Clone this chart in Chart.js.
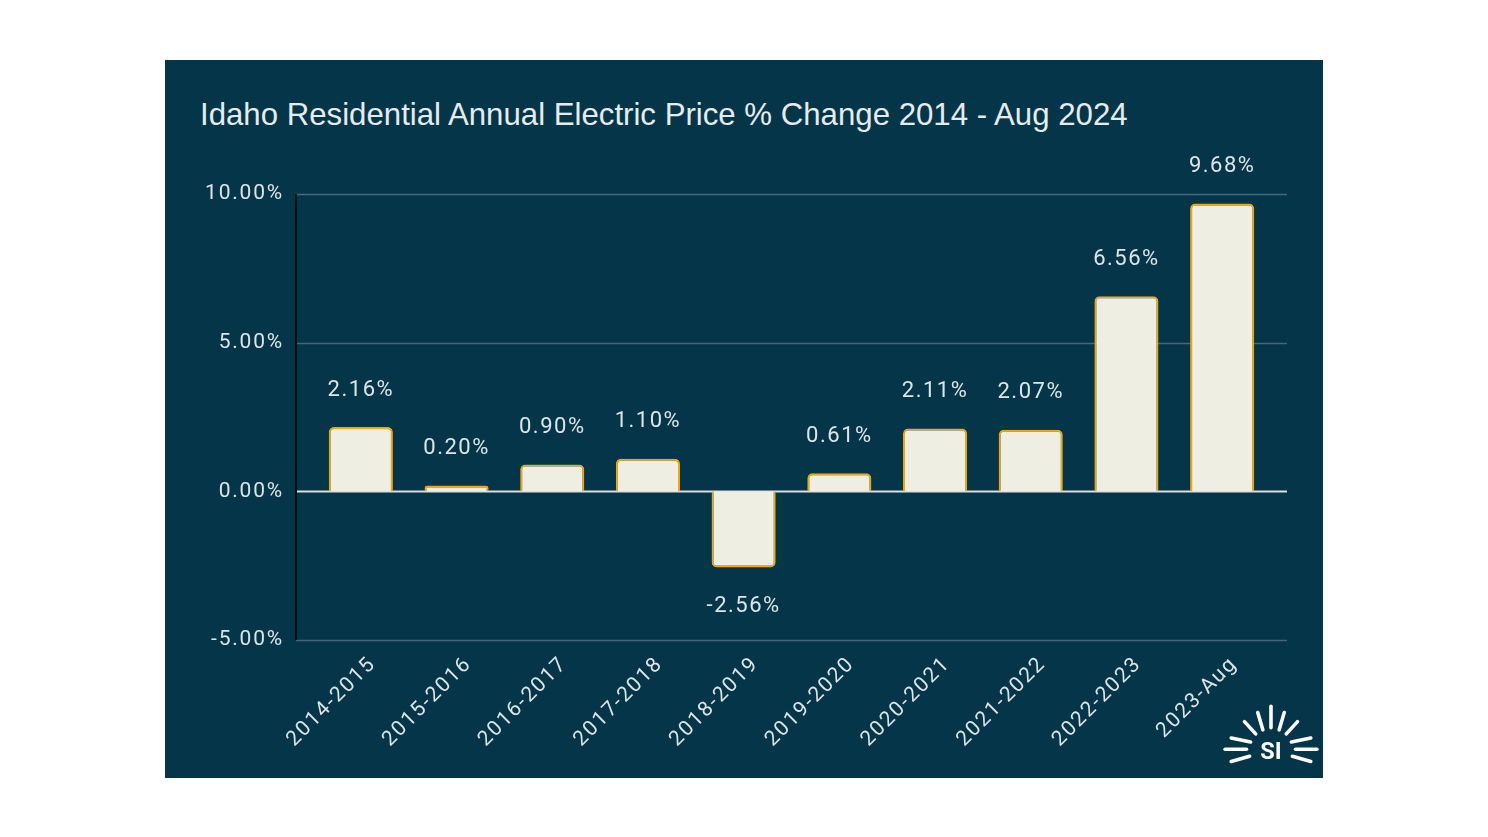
<!DOCTYPE html>
<html>
<head>
<meta charset="utf-8">
<script src="https://cdn.jsdelivr.net/npm/chart.js@4.4.1/dist/chart.umd.min.js"></script>
<style>
    body { margin: 0; background: #ffffff; width: 1488px; height: 837px; overflow: hidden; }
    #panel { position: absolute; left: 165px; top: 60px; width: 1158px; height: 718px; background: #053548; }
    #title { position: absolute; left: 35px; top: 37px; color: #e6ecee; font: 31.2px "Liberation Sans", Arial, sans-serif; white-space: nowrap; }
    #chart-wrap { position: absolute; left: 0; top: 0; width: 1158px; height: 718px; }
    #logo { position: absolute; left: 1055px; top: 643px; }
</style>
</head>
<body>
<div id="panel">
    <div id="title">Idaho Residential Annual Electric Price % Change 2014 - Aug 2024</div>
    <div id="chart-wrap"><canvas id="bar-chart"></canvas></div>
    <svg id="logo" width="102" height="72" viewBox="0 0 100 70">
        <g stroke="#ffffff" stroke-width="3.5" stroke-linecap="round">
            <line x1="50" y1="3" x2="50" y2="24"/>
            <line x1="37" y1="9" x2="42" y2="26"/>
            <line x1="63" y1="9" x2="58" y2="26"/>
            <line x1="24" y1="18" x2="35" y2="30"/>
            <line x1="76" y1="18" x2="65" y2="30"/>
            <line x1="11" y1="34" x2="30" y2="38"/>
            <line x1="89" y1="34" x2="70" y2="38"/>
            <line x1="5" y1="45" x2="26" y2="45"/>
            <line x1="95" y1="45" x2="74" y2="45"/>
            <line x1="11" y1="57" x2="29" y2="52"/>
            <line x1="89" y1="57" x2="71" y2="52"/>
        </g>
        <text x="50" y="55" text-anchor="middle" fill="#ffffff" font-family="Roboto, sans-serif" font-weight="bold" font-size="23">SI</text>
    </svg>
</div>
<script>
    const categories = ['2014-2015', '2015-2016', '2016-2017', '2017-2018', '2018-2019',
                        '2019-2020', '2020-2021', '2021-2022', '2022-2023', '2023-Aug'];
    const changes = [2.16, 0.20, 0.90, 1.10, -2.56, 0.61, 2.11, 2.07, 6.56, 9.68];
    const yTicks = [-5, 0, 5, 10];

    const textColor = '#dde5e7';
    const gridExtend = 17;

    // wider letter spacing like the original rendering
    const spacing = {
        id: 'spacing',
        beforeLayout(chart) { chart.ctx.letterSpacing = '1.8px'; },
        beforeDraw(chart) { chart.ctx.letterSpacing = '1.8px'; }
    };

    // horizontal grid lines reach a bit past the bars on both sides
    const gridLines = {
        id: 'gridLines',
        beforeDatasetsDraw(chart) {
            const { ctx, chartArea } = chart;
            const y = chart.scales.y;
            const left = chartArea.left - gridExtend;
            const right = chartArea.right + gridExtend;
            ctx.save();
            y.ticks.forEach(t => {
                const py = Math.round(y.getPixelForValue(t.value)) + 0.5;
                ctx.beginPath();
                ctx.strokeStyle = t.value === 0 ? '#d9e0e3' : '#46677a';
                ctx.lineWidth = t.value === 0 ? 2 : 1.5;
                ctx.moveTo(left, py);
                ctx.lineTo(right, py);
                ctx.stroke();
            });
            ctx.beginPath();
            ctx.strokeStyle = '#0b0f12';
            ctx.lineWidth = 2;
            ctx.moveTo(left, y.getPixelForValue(10));
            ctx.lineTo(left, y.getPixelForValue(-5));
            ctx.stroke();
            ctx.restore();
        }
    };

    // value labels above / below each bar
    const valueLabels = {
        id: 'valueLabels',
        afterDatasetsDraw(chart) {
            const { ctx } = chart;
            const meta = chart.getDatasetMeta(0);
            ctx.save();
            ctx.letterSpacing = '1.5px';
            ctx.font = '22px Roboto, sans-serif';
            ctx.fillStyle = textColor;
            ctx.textAlign = 'center';
            ctx.textBaseline = 'middle';
            meta.data.forEach((bar, i) => {
                const v = changes[i];
                const y = v >= 0 ? bar.y - 37 : bar.y + 39;
                ctx.fillText(v.toFixed(2) + '%', bar.x, y);
            });
            ctx.restore();
        }
    };

    const ctx = document.getElementById('bar-chart').getContext('2d');
    new Chart(ctx, {
        type: 'bar',
        data: {
            labels: categories,
            datasets: [{
                data: changes,
                backgroundColor: '#eeefe2',
                borderColor: '#f2a60c',
                borderWidth: 2,
                borderRadius: 5,
                borderSkipped: 'start',
                barPercentage: 0.67,
                categoryPercentage: 1
            }]
        },
        options: {
            responsive: true,
            maintainAspectRatio: false,
            animation: false,
            layout: { padding: { top: 134, right: 53, left: 0, bottom: 0 } },
            plugins: {
                legend: { display: false },
                tooltip: { enabled: false }
            },
            scales: {
                x: {
                    grid: { display: false },
                    border: { display: false },
                    ticks: {
                        color: textColor,
                        font: { family: 'Roboto', size: 21 },
                        minRotation: 45,
                        maxRotation: 45,
                        padding: 4,
                        labelOffset: 12
                    },
                    afterFit: (scale) => { scale.height = 138; }
                },
                y: {
                    min: -5,
                    max: 10,
                    afterBuildTicks: (scale) => { scale.ticks = yTicks.map(v => ({ value: v })); },
                    grid: { display: false },
                    border: { display: false },
                    ticks: {
                        color: textColor,
                        font: { family: 'Roboto', size: 21 },
                        padding: 21,
                        callback: (v) => v.toFixed(2) + '%'
                    },
                    afterFit: (scale) => { scale.width = 148; }
                }
            }
        },
        plugins: [spacing, gridLines, valueLabels]
    });
</script>
</body>
</html>
